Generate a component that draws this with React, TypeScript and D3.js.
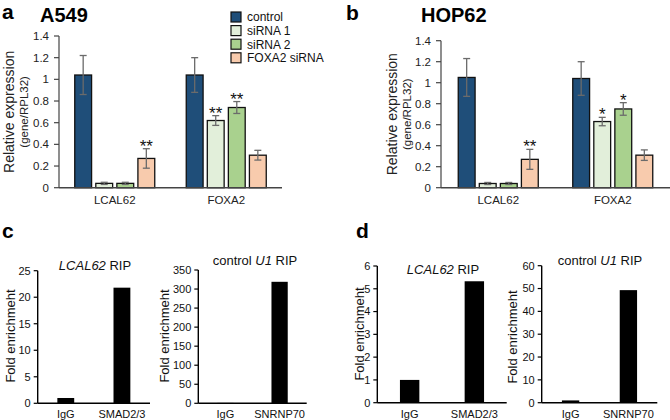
import React from "react";
import * as d3 from "d3";

// ---------- data ----------
const groups = ["LCAL62", "FOXA2"];
const series = ["control", "siRNA 1", "siRNA 2", "FOXA2 siRNA"];
const seriesColors = ["#1f4e79", "#e2efda", "#a9d18e", "#f8cbad"];

// panel a (A549): values per group, per series
const a549Values = [
  [1.04, 0.04, 0.04, 0.27],
  [1.04, 0.62, 0.74, 0.3],
];
const a549Errors = [
  [0.18, 0.01, 0.01, 0.09],
  [0.16, 0.045, 0.055, 0.045],
];
const a549Stars = [
  ["", "", "", "**"],
  ["", "**", "**", ""],
];

// panel b (HOP62)
const hop62Values = [
  [1.05, 0.04, 0.04, 0.27],
  [1.04, 0.63, 0.75, 0.31],
];
const hop62Errors = [
  [0.18, 0.01, 0.01, 0.095],
  [0.16, 0.04, 0.06, 0.05],
];
const hop62Stars = [
  ["", "", "", "**"],
  ["", "*", "*", ""],
];
const exprTicks = [0, 0.2, 0.4, 0.6, 0.8, 1, 1.2, 1.4];

// RIP panels
const ripCatsSmad = ["IgG", "SMAD2/3"];
const ripCatsSnrnp = ["IgG", "SNRNP70"];
const cSmadValues = [1, 21.8];
const cSnrnpValues = [1, 319];
const dSmadValues = [1, 5.33];
const dSnrnpValues = [1, 49.3];
const cSmadTicks = [0, 5, 10, 15, 20, 25];
const cSnrnpTicks = [0, 50, 100, 150, 200, 250, 300, 350];
const dSmadTicks = [0, 1, 2, 3, 4, 5, 6];
const dSnrnpTicks = [0, 10, 20, 30, 40, 50, 60];

const FONT = "'Liberation Sans', Arial, Helvetica, sans-serif";

function fmt(v: number) {
  return String(Math.round(v * 10) / 10);
}

type ExprProps = {
  axisX: number;
  xEnd: number;
  yTop: number;
  y0: number;
  values: number[][];
  errors: number[][];
  stars: string[][];
  labelX1: number;
  labelX2: number;
};

function ExprPanel(p: ExprProps) {
  const y = d3.scaleLinear().domain([0, 1.4]).range([p.y0, p.yTop]);
  const gx = d3.scaleBand().domain(groups).range([p.axisX, p.xEnd]).padding(0);
  const inner = d3.scaleBand().domain(series).range([-40, 40]).paddingInner(0.2).paddingOuter(0);
  const yMid = (p.y0 + p.yTop) / 2;
  return (
    <g>
      <line x1={p.axisX} x2={p.axisX} y1={p.yTop} y2={p.y0} stroke="#444" strokeWidth={1.2} />
      {exprTicks.map((t) => (
        <g key={t}>
          <line x1={p.axisX - 5} x2={p.axisX} y1={y(t)} y2={y(t)} stroke="#444" strokeWidth={1.2} />
          <text x={p.axisX - 10} y={y(t)} dy="0.35em" textAnchor="end" fontSize={11.5} fill="#222">
            {fmt(t)}
          </text>
        </g>
      ))}
      {groups.map((g, gi) => {
        const cx = (gx(g) as number) + gx.bandwidth() / 2;
        return (
          <g key={g}>
            {series.map((s, si) => {
              const v = p.values[gi][si];
              const e = p.errors[gi][si];
              const x0 = cx + (inner(s) as number);
              const w = inner.bandwidth();
              const xm = x0 + w / 2;
              return (
                <g key={s}>
                  <rect x={x0} y={y(v)} width={w} height={p.y0 - y(v)} fill={seriesColors[si]} stroke="#111" strokeWidth={1.3} />
                  <line x1={xm} x2={xm} y1={y(v + e)} y2={y(Math.max(0, v - e))} stroke="#6b6b6b" strokeWidth={1.3} />
                  <line x1={xm - 3.5} x2={xm + 3.5} y1={y(v + e)} y2={y(v + e)} stroke="#6b6b6b" strokeWidth={1.3} />
                  <line x1={xm - 3.5} x2={xm + 3.5} y1={y(Math.max(0, v - e))} y2={y(Math.max(0, v - e))} stroke="#6b6b6b" strokeWidth={1.3} />
                  {p.stars[gi][si] && (
                    <text x={xm} y={y(v + e) + 3} textAnchor="middle" fontSize={17} fill="#111">
                      {p.stars[gi][si]}
                    </text>
                  )}
                </g>
              );
            })}
            <text x={cx} y={p.y0 + 16} textAnchor="middle" fontSize={11.5} fill="#222">
              {g}
            </text>
          </g>
        );
      })}
      <line x1={p.axisX} x2={p.xEnd} y1={p.y0} y2={p.y0} stroke="#444" strokeWidth={1.5} />
      <text transform={`translate(${p.labelX1},${yMid}) rotate(-90)`} textAnchor="middle" fontSize={14} fill="#222">
        Relative expression
      </text>
      <text transform={`translate(${p.labelX2},${yMid}) rotate(-90)`} textAnchor="middle" fontSize={11.5} fill="#222">
        (gene/RPL32)
      </text>
    </g>
  );
}

type RipProps = {
  axisX: number;
  xEnd: number;
  yTop: number;
  y0: number;
  cats: string[];
  values: number[];
  ticks: number[];
  labelX: number;
  labelY: number;
  title: React.ReactNode;
  titleX: number;
  titleY: number;
};

function RipPanel(p: RipProps) {
  const max = p.ticks[p.ticks.length - 1];
  const y = d3.scaleLinear().domain([0, max]).range([p.y0, p.yTop]);
  const x = d3.scaleBand().domain(p.cats).range([p.axisX, p.xEnd]).paddingInner(0.7).paddingOuter(0.35);
  return (
    <g>
      {p.cats.map((c, i) => (
        <g key={c}>
          <rect x={x(c)} y={y(p.values[i])} width={x.bandwidth()} height={p.y0 - y(p.values[i])} fill="#000" />
          <text x={(x(c) as number) + x.bandwidth() / 2} y={p.y0 + 15} textAnchor="middle" fontSize={11} fill="#111">
            {c}
          </text>
        </g>
      ))}
      <line x1={p.axisX} x2={p.axisX} y1={p.yTop} y2={p.y0} stroke="#000" strokeWidth={1.4} />
      <line x1={p.axisX} x2={p.xEnd} y1={p.y0} y2={p.y0} stroke="#000" strokeWidth={1.4} />
      {p.ticks.map((t) => (
        <g key={t}>
          <line x1={p.axisX - 4} x2={p.axisX} y1={y(t)} y2={y(t)} stroke="#000" strokeWidth={1.2} />
          <text x={p.axisX - 7} y={y(t)} dy="0.35em" textAnchor="end" fontSize={11} fill="#111">
            {t}
          </text>
        </g>
      ))}
      <text transform={`translate(${p.labelX},${p.labelY}) rotate(-90)`} textAnchor="middle" fontSize={13} fill="#111">
        Fold enrichmeht
      </text>
      <text x={p.titleX} y={p.titleY} textAnchor="middle" fontSize={13} fill="#111">
        {p.title}
      </text>
    </g>
  );
}

export default function App() {
  return (
    <svg width={670} height={420} style={{ position: "absolute", left: 0, top: 0, fontFamily: FONT }}>
      <rect width={670} height={420} fill="#fff" />
      <text x={2} y={19} fontSize={21} fontWeight="bold">a</text>
      <text x={40} y={22} fontSize={20} fontWeight="bold">A549</text>
      <text x={346} y={20} fontSize={21} fontWeight="bold">b</text>
      <text x={421} y={22} fontSize={20} fontWeight="bold">HOP62</text>
      <text x={2} y={238} fontSize={21} fontWeight="bold">c</text>
      <text x={356} y={238} fontSize={21} fontWeight="bold">d</text>

      <ExprPanel axisX={59} xEnd={282} yTop={36} y0={187.7} values={a549Values} errors={a549Errors} stars={a549Stars} labelX1={14} labelX2={28} />
      <ExprPanel axisX={441} xEnd={670} yTop={40.7} y0={187.7} values={hop62Values} errors={hop62Errors} stars={hop62Stars} labelX1={397} labelX2={411} />

      {series.map((s, i) => (
        <g key={s} transform={`translate(231,${17 + i * 13.6})`}>
          <rect x={0} y={-5} width={10} height={10} fill={seriesColors[i]} stroke="#111" strokeWidth={1.2} />
          <text x={16} y={0} dy="0.36em" fontSize={12} fill="#111">{s}</text>
        </g>
      ))}

      <RipPanel axisX={37.7} xEnd={150} yTop={270.7} y0={403.3} cats={ripCatsSmad} values={cSmadValues} ticks={cSmadTicks}
        labelX={15} labelY={336} title={<><tspan fontStyle="italic">LCAL62</tspan> RIP</>} titleX={95} titleY={270} />
      <RipPanel axisX={198.3} xEnd={306.7} yTop={270} y0={403.3} cats={ripCatsSnrnp} values={cSnrnpValues} ticks={cSnrnpTicks}
        labelX={169} labelY={336} title={<>control <tspan fontStyle="italic">U1</tspan> RIP</>} titleX={255} titleY={265} />
      <RipPanel axisX={377.3} xEnd={506.7} yTop={266} y0={402.7} cats={ripCatsSmad} values={dSmadValues} ticks={dSmadTicks}
        labelX={364} labelY={334} title={<><tspan fontStyle="italic">LCAL62</tspan> RIP</>} titleX={443} titleY={274} />
      <RipPanel axisX={541.7} xEnd={657.3} yTop={265.7} y0={402.7} cats={ripCatsSnrnp} values={dSnrnpValues} ticks={dSnrnpTicks}
        labelX={517} labelY={337} title={<>control <tspan fontStyle="italic">U1</tspan> RIP</>} titleX={600} titleY={265} />
    </svg>
  );
}
